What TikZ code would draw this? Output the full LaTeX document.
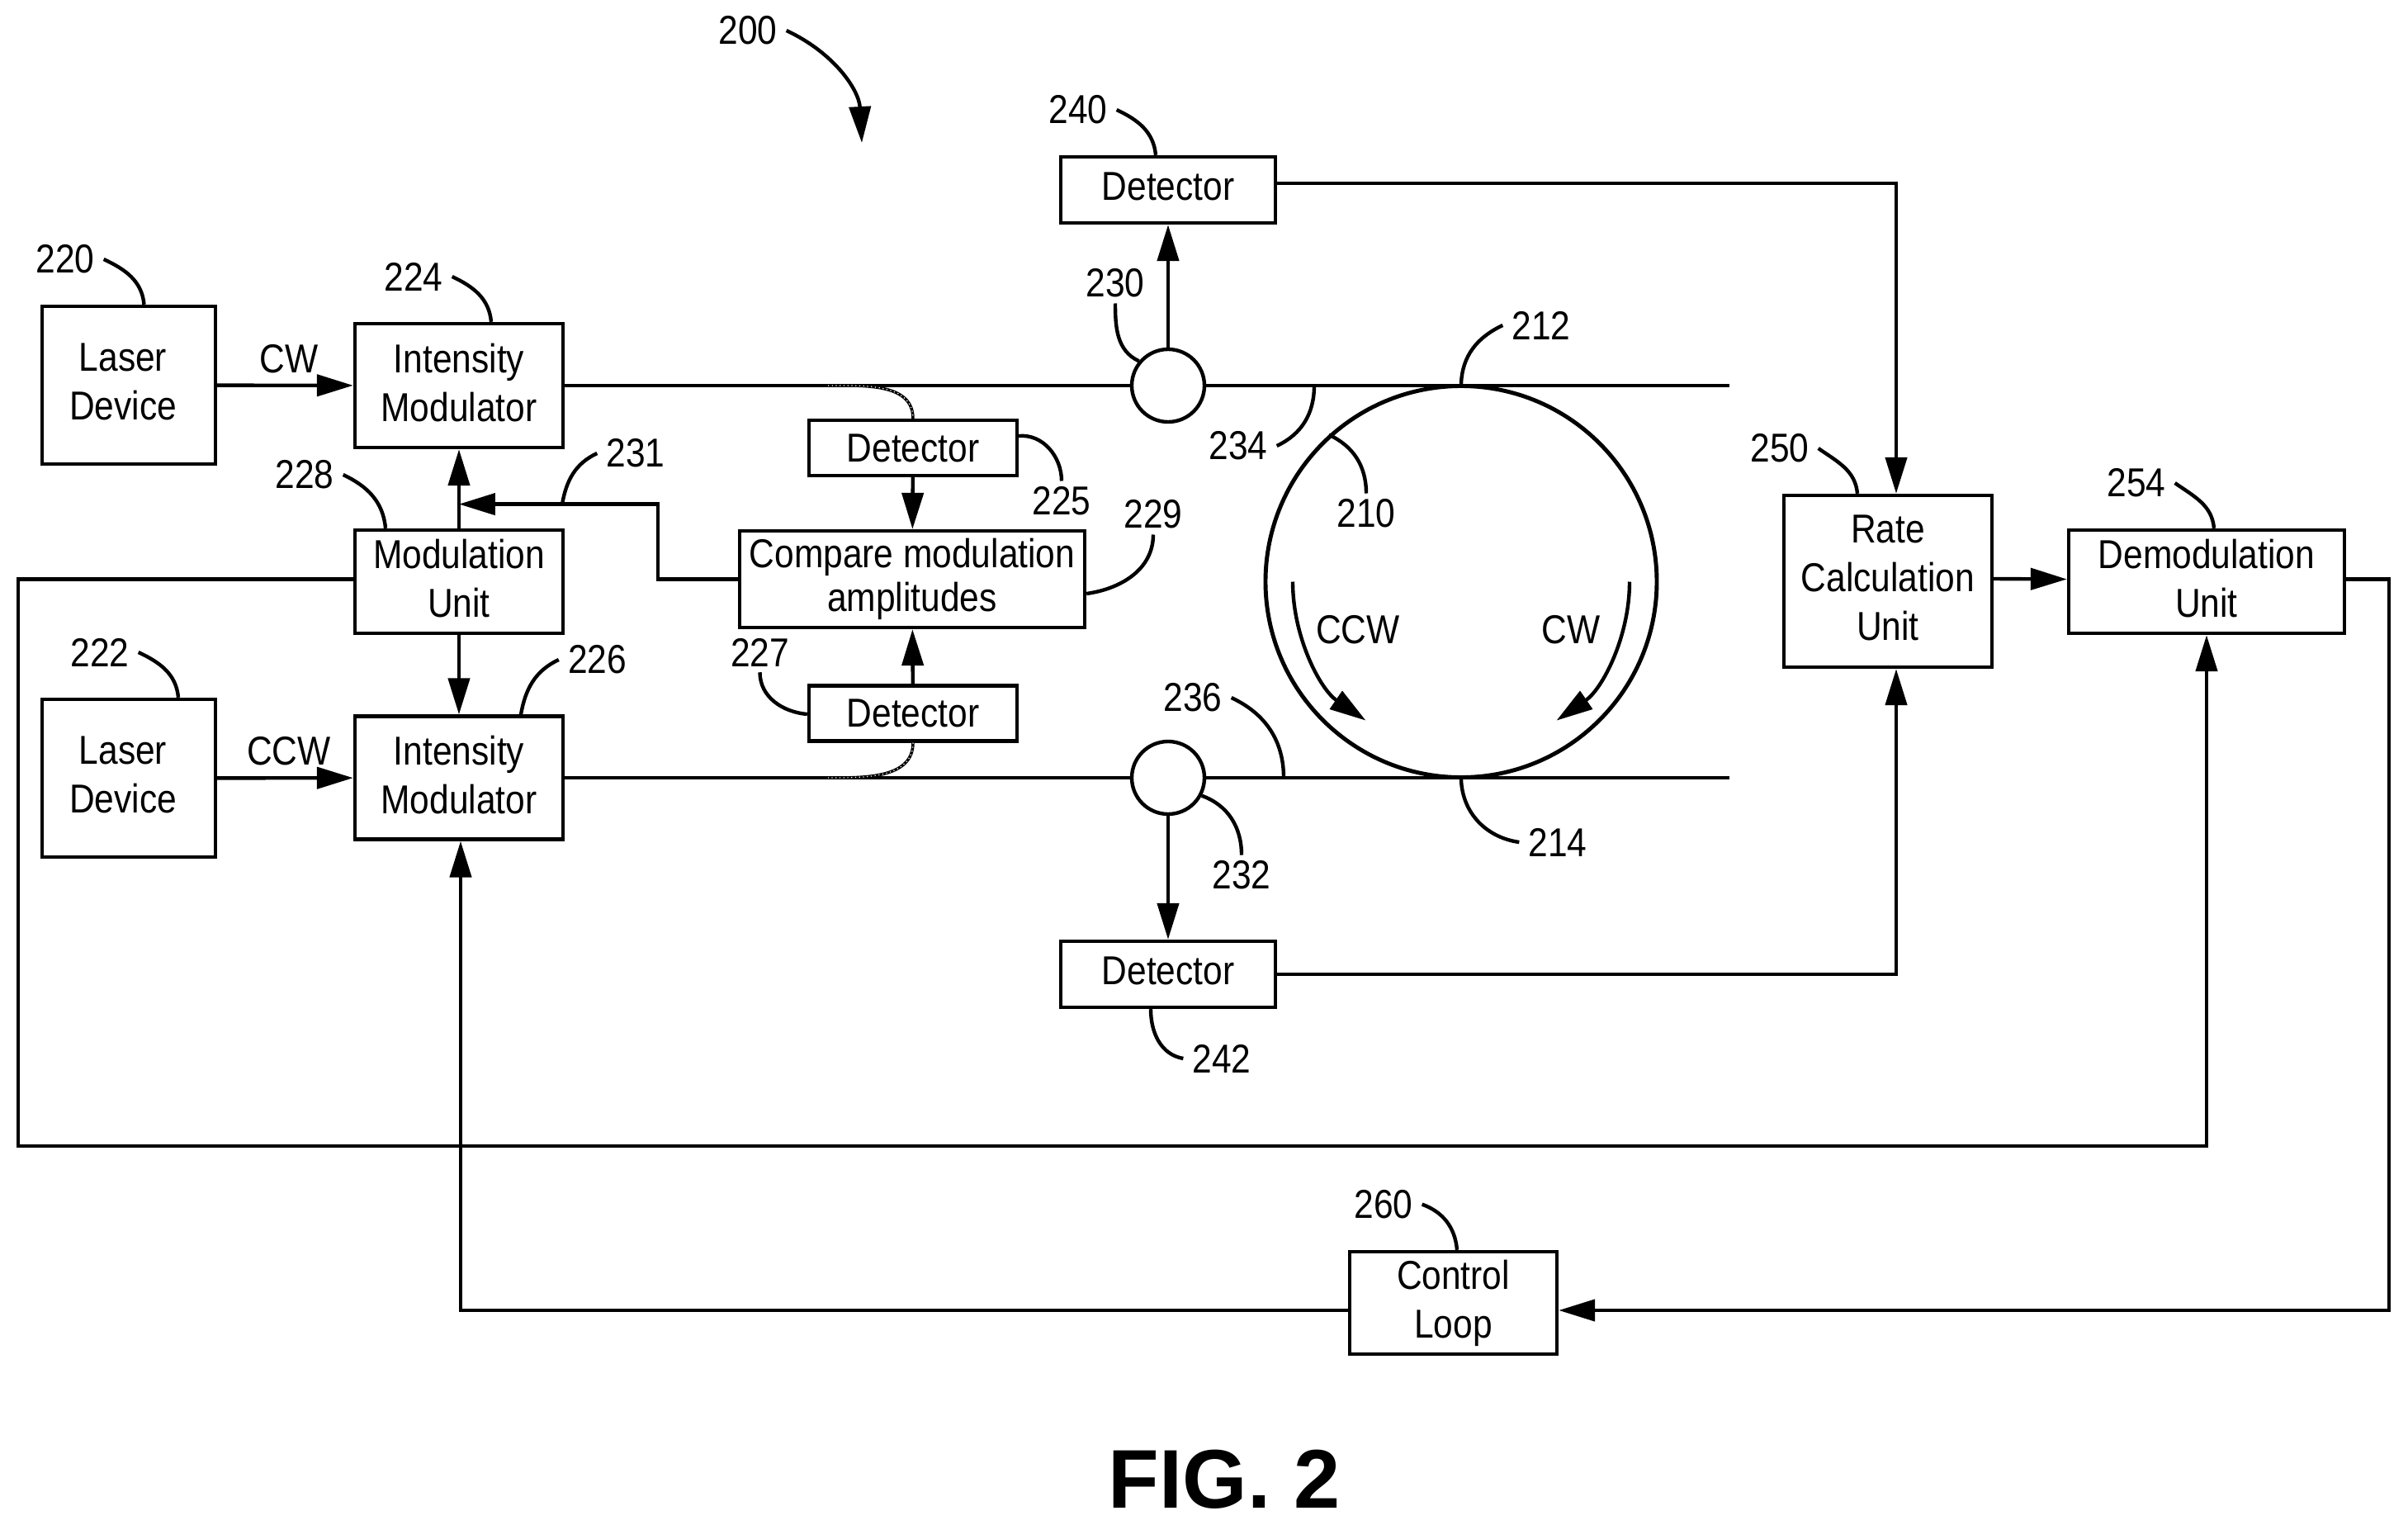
\documentclass[tikz,border=0pt]{standalone}
\usepackage{fontspec}
\setmainfont{Liberation Sans}[FakeStretch=0.87]
\newfontfamily\figfont{Liberation Sans}
\usetikzlibrary{arrows.meta}
\tikzset{
   box/.style={draw, inner sep=0pt, align=center},
   lift/.style={text depth=0.08cm},
   tee/.style={draw, circle, inner sep=0pt, minimum size=0.88cm},
   num/.style={inner xsep=0.09cm, inner ysep=0.05cm},
   conn/.style={-{Triangle[length=12.5pt,width=7.4pt]}},
   tap/.style={line width=1pt, postaction={draw=white, line width=0.35pt, densely dotted}},
}

\begin{document}
\begin{tikzpicture}[line width=1.25pt, font=\fontsize{13.9}{16.8}\selectfont]
            \useasboundingbox (0,0) rectangle (29.17,-18.47);
            \node[box, lift, minimum width=2.10cm, minimum height=1.91cm] (laser1) at (1.56,-4.665) {Laser\hspace*{0.14cm}\\Device\hspace*{0.14cm}};
            \node[box, lift, minimum width=2.10cm, minimum height=1.91cm] (laser2) at (1.56,-9.425) {Laser\hspace*{0.14cm}\\Device\hspace*{0.14cm}};
            \node[box, lift, minimum width=2.52cm, minimum height=1.50cm] (im1) at (5.56,-4.67) {Intensity\\Modulator};
            \node[box, lift, minimum width=2.52cm, minimum height=1.49cm] (im2) at (5.56,-9.42) {Intensity\\Modulator};
            \node[box, lift, minimum width=2.52cm, minimum height=1.25cm] (mod) at (5.56,-7.045) {Modulation\\Unit};
            \node[box, minimum width=2.52cm, minimum height=0.67cm] (dettop) at (11.06,-5.425) {Detector};
            \node[box, minimum width=2.52cm, minimum height=0.67cm] (detbot) at (11.06,-8.64) {Detector};
            \node[box, minimum width=4.18cm, minimum height=1.17cm] (compare) at (11.05,-7.015) {Compare modulation\\[-1.7pt]amplitudes};
            \node[box, lift, minimum width=2.60cm, minimum height=0.80cm] (det240) at (14.15,-2.30) {Detector};
            \node[box, lift, minimum width=2.60cm, minimum height=0.80cm] (det242) at (14.15,-11.80) {Detector};
            \node[box, lift, minimum width=2.52cm, minimum height=2.08cm] (rate) at (22.87,-7.04) {Rate\\Calculation\\Unit};
            \node[box, lift, minimum width=3.34cm, minimum height=1.25cm] (demod) at (26.73,-7.045) {Demodulation\\Unit};
            \node[box, minimum width=2.51cm, minimum height=1.24cm] (control) at (17.605,-15.78) {Control\\Loop};
            \node[tee] (tee1) at (14.15,-4.67) {};
            \node[tee] (tee2) at (14.15,-9.42) {};
            \node[draw, circle, line width=1.4pt, inner sep=0pt, minimum size=4.74cm] (ring) at (17.70,-7.045) {};

            \coordinate (end1) at (20.95,-4.67);
            \coordinate (end2) at (20.95,-9.42);
            \coordinate (kink) at (7.97,-6.106);
            \coordinate (junc) at (5.56,-6.106);
            \coordinate (loopbl) at (0.22,-13.88);
            \coordinate (loopbr) at (28.94,-15.87);
            \coordinate (tap1) at (10.03,-4.67);
            \coordinate (tap2) at (10.03,-9.42);
            \coordinate (tap231) at (6.81,-6.106);
            \coordinate (tap234) at (15.92,-4.67);
            \coordinate (tap236) at (15.55,-9.42);
            \coordinate (tip200) at (10.44,-1.73);

            \draw[conn](laser1)to(im1);
            \draw[conn](laser2)to(im2);
            \draw(im1)to(tee1);
            \draw(tee1)to(end1);
            \draw(im2)to(tee2);
            \draw(tee2)to(end2);
            \draw[conn](mod)to(im1);
            \draw[conn](mod)to(im2);
            \draw[conn](tee1)to(det240);
            \draw[conn](tee2)to(det242);
            \draw[conn](dettop)to(compare);
            \draw[conn](detbot)to(compare);
            \draw[conn](compare.west)-|(kink)--(junc);
            \draw[conn]([yshift=0.08cm]det240.east)-|([xshift=0.10cm]rate.north);
            \draw[conn](det242.east)-|([xshift=0.10cm]rate.south);
            \draw[conn]([yshift=0.03cm]rate.east)--([yshift=0.03cm]demod.west);
            \draw[conn]([yshift=0.03cm]mod.west)-|(loopbl)-|(demod.south);
            \draw[conn]([yshift=0.03cm]demod.east)-|(loopbr)--([yshift=-0.09cm]control.east);
            \draw[conn]([yshift=-0.09cm]control.west)-|([xshift=0.02cm]im2.south);
            \draw[tap](tap1)to[out=0,in=90](dettop.north);
            \draw[tap](detbot.south)to[out=-90,in=0](tap2);
            \draw[conn](15.66,-7.045)arc[start angle=180,end angle=235.5,radius=2.04];
            \draw[conn](19.74,-7.045)arc[start angle=0,end angle=-55.5,radius=2.04];

            \node (cw1) at (3.50,-4.35) {CW};
            \node (ccw1) at (3.50,-9.10) {CCW};
            \node (ccw2) at (16.45,-7.63) {CCW};
            \node (cw2) at (19.03,-7.63) {CW};

            \node[num] (n200) at (9.06,-0.37) {200};
            \node[num] (n210) at (16.55,-6.22) {210};
            \node[num] (n212) at (18.67,-3.94) {212};
            \node[num] (n214) at (18.87,-10.20) {214};
            \node[num] (n220) at (0.79,-3.14) {220};
            \node[num] (n222) at (1.21,-7.90) {222};
            \node[num] (n224) at (5.01,-3.35) {224};
            \node[num] (n225) at (12.86,-6.07) {225};
            \node[num] (n226) at (7.235,-7.99) {226};
            \node[num] (n227) at (9.205,-7.90) {227};
            \node[num] (n228) at (3.69,-5.75) {228};
            \node[num] (n229) at (13.97,-6.23) {229};
            \node[num] (n230) at (13.51,-3.43) {230};
            \node[num] (n231) at (7.70,-5.49) {231};
            \node[num] (n232) at (15.04,-10.60) {232};
            \node[num] (n234) at (15.00,-5.40) {234};
            \node[num] (n236) at (14.45,-8.45) {236};
            \node[num] (n240) at (13.06,-1.33) {240};
            \node[num] (n242) at (14.80,-12.82) {242};
            \node[num] (n250) at (21.56,-5.43) {250};
            \node[num] (n254) at (25.88,-5.85) {254};
            \node[num] (n260) at (16.76,-14.586) {260};

            \draw[conn](n200.east)to[out=-25,in=93](tip200);
            \draw(n220.east)to[out=-25,in=95]([xshift=0.185cm]laser1.north);
            \draw(n222.east)to[out=-25,in=95]([xshift=0.60cm]laser2.north);
            \draw(n224.east)to[out=-25,in=95]([xshift=0.39cm]im1.north);
            \draw(n226.west)to[out=205,in=80]([xshift=0.75cm]im2.north);
            \draw(n228.east)to[out=-25,in=95]([xshift=-0.89cm]mod.north);
            \draw(n231.west)to[out=205,in=80](tap231);
            \draw(n225.north)to[out=90,in=5]([yshift=0.145cm]dettop.east);
            \draw(n227.south)to[out=-90,in=175]([yshift=-0.01cm]detbot.west);
            \draw(n229.south)to[out=-90,in=8]([yshift=-0.175cm]compare.east);
            \draw(n230.south)to[out=-90,in=155](tee1.140);
            \draw(n232.north)to[out=90,in=-20](tee2.-28);
            \draw(n234.east)to[out=25,in=-90](tap234);
            \draw(n210.north)to[out=90,in=-25](ring.132);
            \draw(n212.west)to[out=205,in=88](ring.north);
            \draw(n214.west)to[out=172,in=-88](ring.south);
            \draw(n236.east)to[out=-25,in=90](tap236);
            \draw(n240.east)to[out=-25,in=95]([xshift=-0.15cm]det240.north);
            \draw(n242.west)to[out=170,in=-90]([xshift=-0.21cm]det242.south);
            \draw(n250.east)to[out=-35,in=95]([xshift=-0.37cm]rate.north);
            \draw(n254.east)to[out=-35,in=95]([xshift=0.09cm]demod.north);
            \draw(n260.east)to[out=-20,in=95]([xshift=0.045cm]control.north);

            \node[font=\figfont\fontsize{28.7}{30}\bfseries\selectfont] (figname) at (14.83,-17.92) {FIG. 2};
\end{tikzpicture}
\end{document}
